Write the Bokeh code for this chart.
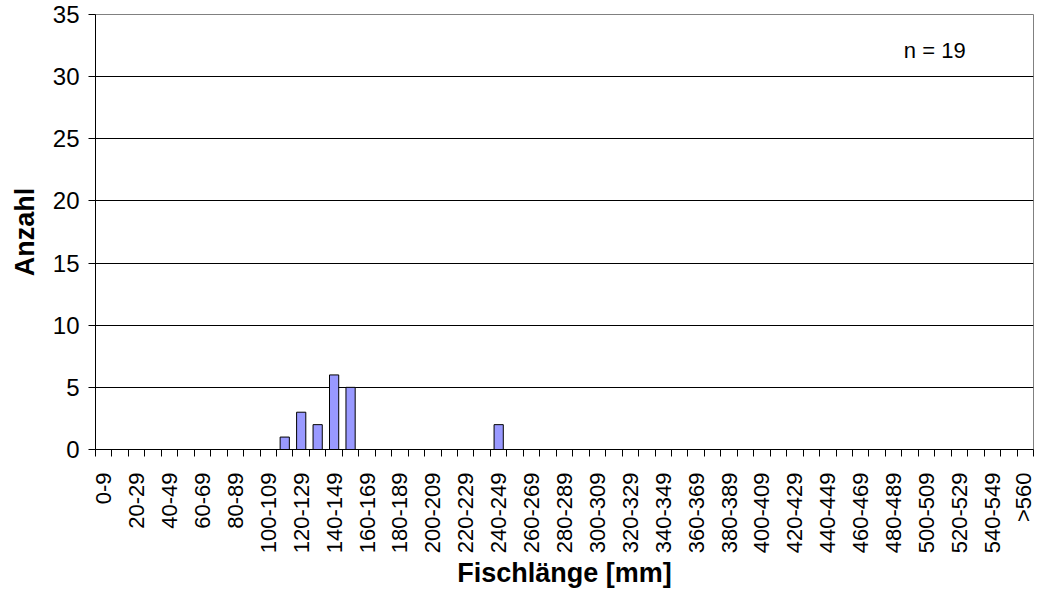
from bokeh.plotting import figure
from bokeh.models import Range1d, FixedTicker, CustomJSTickFormatter, Label, ColumnDataSource
from bokeh.embed import file_html
from bokeh.resources import INLINE

# ---- data ----
categories = [f"{lo}-{lo + 9}" for lo in range(0, 560, 10)] + [">560"]
counts = [0] * len(categories)
observed = {"110-119": 1, "120-129": 3, "130-139": 2, "140-149": 6, "150-159": 5, "240-249": 2}
for k, v in observed.items():
    counts[categories.index(k)] = v
y_ticks = [0, 5, 10, 15, 20, 25, 30, 35]
n_text = "n = 19"
x_title = "Fischlänge [mm]"
y_title = "Anzahl"

FONT = "Liberation Sans"

n = len(categories)
centers = [i + 0.5 for i in range(n)]
src = ColumnDataSource(dict(x=centers, top=counts, cat=categories))

p = figure(width=1035, height=591, output_backend="svg", toolbar_location=None,
           x_range=Range1d(0, n), y_range=Range1d(0, 35),
           min_border_left=95, min_border_right=2, min_border_top=14, min_border_bottom=142)
p.background_fill_color = "white"
p.border_fill_color = "white"
p.outline_line_color = "#808080"
p.outline_line_width = 1

p.vbar(x="x", top="top", width=0.56, source=src,
       fill_color="#9999FF", line_color="#000000", line_width=1)

# x axis
xa = p.xaxis[0]
xa.ticker = FixedTicker(ticks=[centers[i] for i in range(0, n, 2)],
                        minor_ticks=list(range(0, n + 1)))
xa.formatter = CustomJSTickFormatter(args=dict(labels=categories),
                                     code="return labels[Math.floor(tick)];")
xa.major_tick_out = 0
xa.major_tick_in = 0
xa.minor_tick_out = 7
xa.minor_tick_in = 0
xa.minor_tick_line_color = "black"
xa.axis_line_color = "black"
xa.major_label_orientation = 1.5707963267948966
xa.major_label_standoff = 16
xa.major_label_text_font = FONT
xa.major_label_text_font_size = "22px"
xa.major_label_text_color = "black"
xa.axis_label = x_title
xa.axis_label_text_font = FONT
xa.axis_label_text_font_size = "27px"
xa.axis_label_text_font_style = "bold"
xa.axis_label_text_color = "black"
xa.axis_label_standoff = 2

# y axis
ya = p.yaxis[0]
ya.ticker = FixedTicker(ticks=y_ticks)
ya.major_tick_out = 7
ya.major_tick_in = 0
ya.minor_tick_out = 0
ya.minor_tick_in = 0
ya.major_tick_line_color = "black"
ya.axis_line_color = "black"
ya.major_label_standoff = 9
ya.major_label_text_font = FONT
ya.major_label_text_font_size = "24px"
ya.major_label_text_color = "black"
ya.axis_label = y_title
ya.axis_label_text_font = FONT
ya.axis_label_text_font_size = "27px"
ya.axis_label_text_font_style = "bold"
ya.axis_label_text_color = "black"
ya.axis_label_standoff = 10

p.xgrid.visible = False
p.ygrid.ticker = FixedTicker(ticks=y_ticks[1:-1])
p.ygrid.grid_line_color = "black"
p.ygrid.grid_line_alpha = 1.0
p.ygrid.grid_line_width = 1

p.add_layout(Label(x=51.0, y=32.1, text=n_text, text_align="center", text_baseline="middle",
                   text_font=FONT, text_font_size="22px", text_color="black"))

open("out.html", "w").write(file_html(p, INLINE))
